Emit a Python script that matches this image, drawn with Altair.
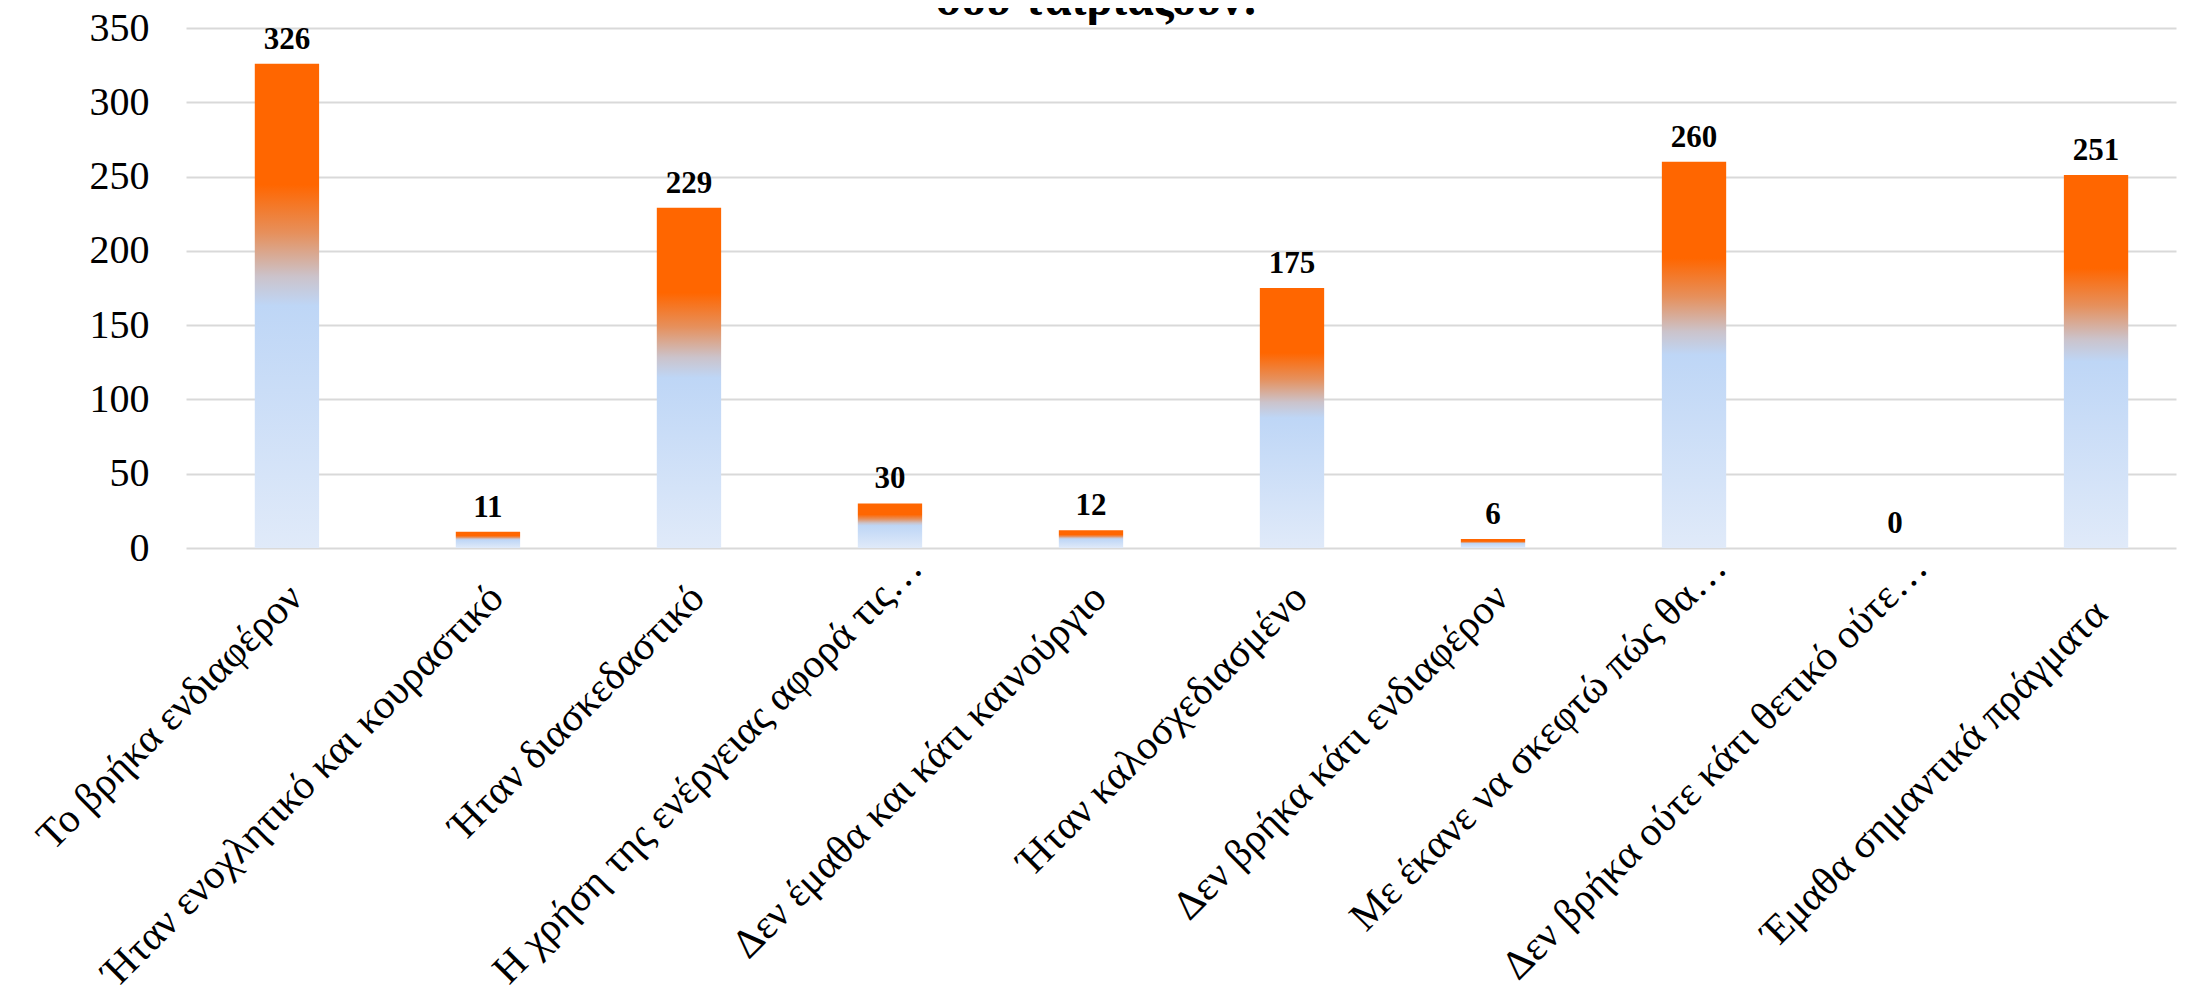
import altair as alt
import pandas as pd

categories = [
    "Το βρήκα ενδιαφέρον",
    "Ήταν ενοχλητικό και κουραστικό",
    "Ήταν διασκεδαστικό",
    "Η χρήση της ενέργειας αφορά τις…",
    "Δεν έμαθα και κάτι καινούργιο",
    "Ήταν καλοσχεδιασμένο",
    "Δεν βρήκα κάτι ενδιαφέρον",
    "Με έκανε να σκεφτώ πώς θα…",
    "Δεν βρήκα ούτε κάτι θετικό ούτε…",
    "Έμαθα σημαντικά πράγματα",
]
values = [326, 11, 229, 30, 12, 175, 6, 260, 0, 251]
y_ticks = [0, 50, 100, 150, 200, 250, 300, 350]
title_text = "σου ταιριάζουν:"

df = pd.DataFrame({"category": categories, "value": values})
title_df = pd.DataFrame({"title": [title_text]})

FONT = "Liberation Serif"

gradient = alt.LinearGradient(
    gradient="linear", x1=0, y1=1, x2=0, y2=0,
    stops=[
        alt.GradientStop(offset=0.0, color="#e0eaf9"),
        alt.GradientStop(offset=0.5, color="#bed6f6"),
        alt.GradientStop(offset=0.56, color="#cbc3cb"),
        alt.GradientStop(offset=0.65, color="#e6905c"),
        alt.GradientStop(offset=0.75, color="#ff6600"),
        alt.GradientStop(offset=1.0, color="#ff6600"),
    ],
)

truncated_test = "indexof(datum.value, '…') >= 0"
last_test = "datum.value === 'Έμαθα σημαντικά πράγματα'"

x_enc = alt.X(
    "category:N", sort=categories, title=None,
    scale=alt.Scale(paddingInner=0.68, paddingOuter=0.29, align=0.59),
    axis=alt.Axis(
        labelAngle=-45, labelAlign="right", labelBaseline="top",
        labelFont=FONT, labelFontSize=41,
        labelColor="black", labelLimit=0,
        labelPadding={"condition": [
            {"test": truncated_test, "value": -1},
            {"test": last_test, "value": 45},
        ], "value": 29},
        labelOffset={"condition": [
            {"test": truncated_test, "value": 12},
            {"test": last_test, "value": -9},
        ], "value": -5},
        domain=False, ticks=False, grid=False,
    ),
)
y_enc = alt.Y(
    "value:Q", title=None,
    scale=alt.Scale(domain=[0, 350], nice=False),
    axis=alt.Axis(
        values=y_ticks, labelFont=FONT, labelFontSize=40, labelColor="black",
        labelPadding=37, domain=False, ticks=False,
        gridColor="#d9d9d9", gridWidth=2,
    ),
)

bars = alt.Chart(df).mark_bar(color=gradient).encode(x=x_enc, y=y_enc)
labels = alt.Chart(df).mark_text(
    dy=-15, baseline="alphabetic", font=FONT, fontSize=31, fontWeight="bold", color="black"
).encode(x=alt.X("category:N", sort=categories), y="value:Q", text="value:Q")

# chart title (its upper part lies above the top edge, as in the original)
title_mark = alt.Chart(title_df).mark_text(
    baseline="alphabetic", align="center", font=FONT, fontSize=48,
    fontWeight="bold", color="black",
).encode(text="title:N", x=alt.value(911), y=alt.value(-13))

chart = alt.layer(bars, labels, title_mark).properties(
    width=1990, height=520,
    padding={"left": 178, "top": 20, "right": 4, "bottom": 440},
    autosize=alt.AutoSizeParams(type="none"),
).configure_view(stroke=None)

chart.save("out.html", embed_options={"renderer": "svg", "actions": False})
